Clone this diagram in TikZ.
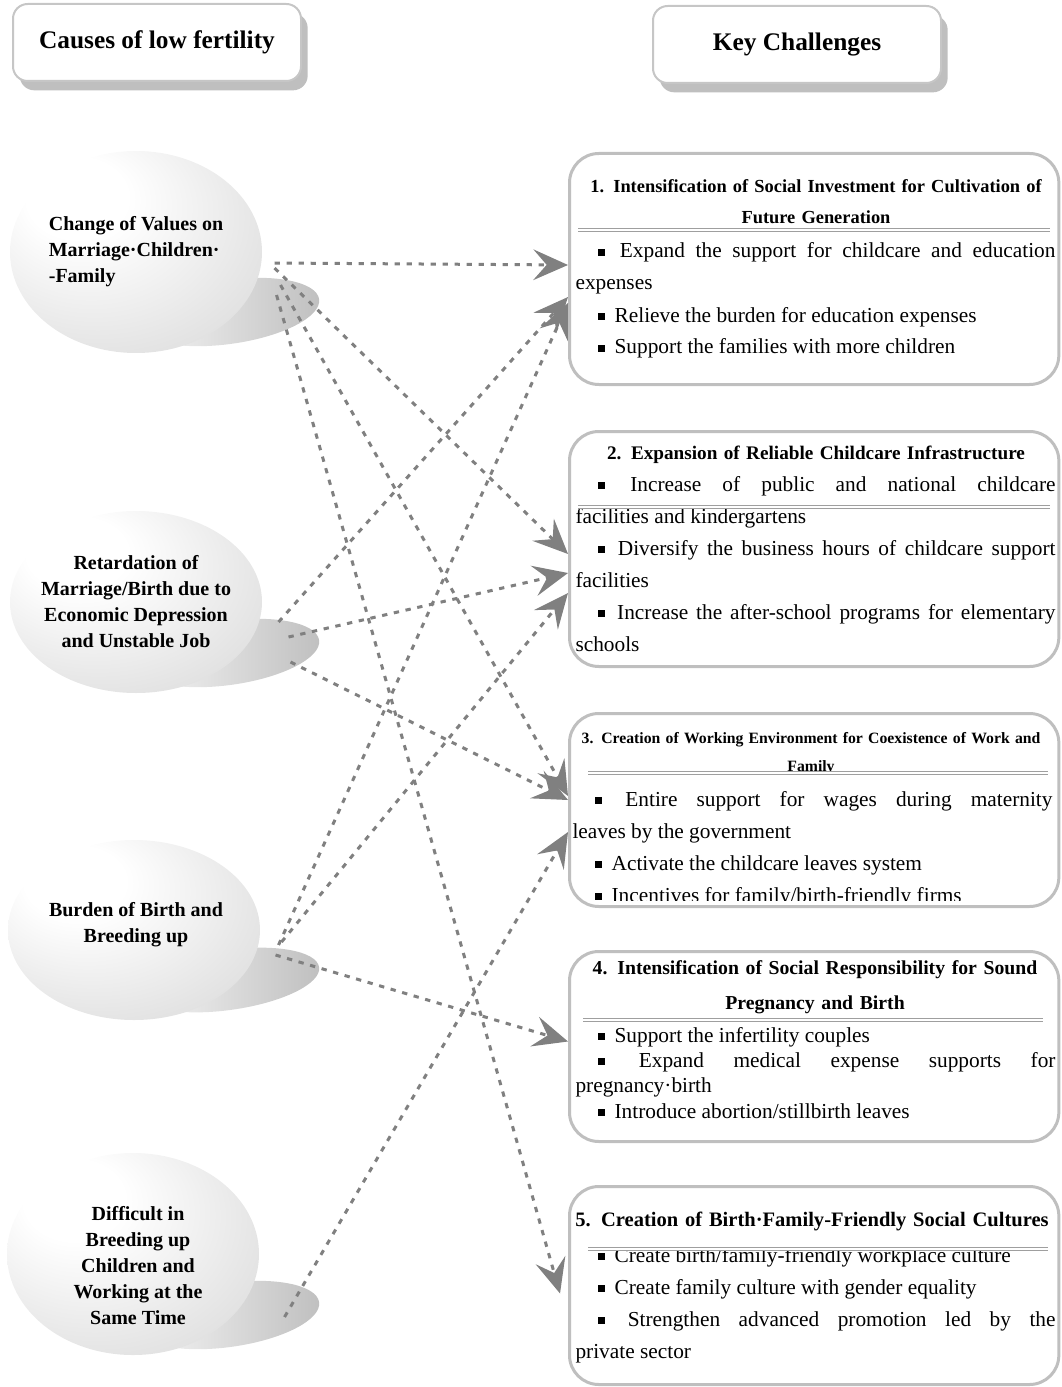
\documentclass[tikz,border=0pt]{standalone}
\usepackage{fontspec}
\setmainfont{Liberation Serif}
\usetikzlibrary{shapes.geometric,shadows,arrows.meta}
\pgfdeclareradialshading{orb}{\pgfpoint{-14bp}{16bp}}{color(0bp)=(white); color(10bp)=(white); color(40bp)=(gray!28); color(62bp)=(gray!38)}
\newcommand{\sq}{\rule[0.1em]{0.32em}{0.32em}}
\newcommand{\itm}{\hspace*{17pt}\sq\hspace{0.2em}\ }
\begin{document}
\begin{tikzpicture}[x=0.75pt, y=-0.75pt, thick,
	head node/.style={draw=gray!45, line width=1.5pt, fill=white, rounded corners=11pt,
		minimum width=216pt, minimum height=57.75pt, anchor=north west,
		drop shadow={shadow xshift=5pt, shadow yshift=-7pt, fill=gray!50, opacity=1},
		font=\bfseries\fontsize{19}{23}\selectfont},
	cause node/.style={ellipse, shading=orb, minimum width=189pt},
	cause text/.style={font=\bfseries\fontsize{15}{19.5}\selectfont, align=center},
	cause shadow/.style={left color=gray!6, right color=gray!50},
	key node/.style={draw=gray!50, line width=2.25pt, fill=white, rounded corners=22pt,
		minimum width=367pt, anchor=north west},
	key title/.style={font=\bfseries\fontsize{14.5}{23.25}\selectfont, align=center,
		text width=360pt, anchor=base, inner sep=0pt},
	key text/.style={font=\fontsize{16}{24}\selectfont, align=justify,
		text width=360pt, anchor=base west, inner sep=0pt},
	double rule/.style={draw=gray!75, line width=0.6pt, double, double distance=1.4pt},
	cause link/.style={draw=gray, line width=2.25pt, dash pattern=on 4pt off 5pt,
		-{Stealth[length=26pt, width=23pt, inset=10pt]}}]
	
	\useasboundingbox (0,0) rectangle (1061,1387);
	
	\shade[cause shadow, rotate around={8:(228,312)}] (228,312) ellipse [x radius=92, y radius=32];
	\shade[cause shadow, rotate around={8:(228,653)}] (228,653) ellipse [x radius=92, y radius=32];
	\shade[cause shadow, rotate around={8:(228,980)}] (228,980) ellipse [x radius=92, y radius=30];
	\shade[cause shadow, rotate around={8:(228,1315)}] (228,1315) ellipse [x radius=92, y radius=32];
	
	\node[cause node, minimum height=151.5pt] (c1) at (136,252) {};
	\node[cause node, minimum height=136.5pt] (c2) at (136,602) {};
	\node[cause node, minimum height=135pt] (c3) at (134,930) {};
	\node[cause node, minimum height=151.5pt] (c4) at (133,1254) {};
	\node[cause text, align=left] (t1) at (c1) {Change of Values on\\Marriage·Children·\\-Family};
	\node[cause text] (t2) at (c2) {Retardation of\\Marriage/Birth due to\\Economic Depression\\and Unstable Job};
	\node[cause text] (t3) at (136,925) {Burden of Birth and\\Breeding up};
	\node[cause text] (t4) at (138,1266) {Difficult in\\Breeding up\\Children and\\Working at the\\Same Time};
	
	\node[head node] (h1) at (12,3) {Causes of low fertility};
	\node[head node] (h2) at (652,5) {Key Challenges};
	
	\node[key node, minimum height=173.25pt] (k1) at (568,152) {};
	\node[key node, minimum height=176.25pt] (k2) at (568,430) {};
	\node[key node, minimum height=144.75pt] (k3) at (568,712) {};
	\node[key node, minimum height=142.5pt] (k4) at (568,950) {};
	\node[key node, minimum height=148.5pt] (k5) at (568,1185) {};
	
	\node[key title, font=\bfseries\fontsize{13.8}{23.25}\selectfont] (k1t) at (816,193) {1. Intensification of Social Investment for Cultivation of\\Future Generation};
	\node[key text] (k1b) at (575,258) {\itm Expand the support for childcare and education\linebreak expenses\par
		\itm Relieve the burden for education expenses\par
		\itm Support the families with more children};
	\draw[double rule] (578,230) -- (1050,230);
	
	\node[key title, font=\bfseries\fontsize{14.4}{23.25}\selectfont] (k2t) at (816,459) {2. Expansion of Reliable Childcare Infrastructure};
	\node[key text] (k2b) at (575,491) {\itm Increase of public and national childcare\linebreak facilities and kindergartens\par
		\itm Diversify the business hours of childcare support\linebreak facilities\par
		\itm Increase the after-school programs for elementary\linebreak schools};
	\draw[double rule] (578,507) -- (1050,507);
	
	\node[key title, font=\bfseries\fontsize{11.8}{21}\selectfont] (k3t) at (811,743) {3. Creation of Working Environment for Coexistence of Work and\\Family};
	\begin{scope}
		\clip (568,712) rectangle (1061,900);
		\node[key text] (k3b) at (572,806) {\itm Entire support for wages during maternity\linebreak leaves by the government\par
			\itm Activate the childcare leaves system\par
			\itm Incentives for family/birth-friendly firms};
	\end{scope}
	\draw[double rule] (588,773) -- (1048,773);
	
	\node[key title, font=\bfseries\fontsize{14.8}{26.25}\selectfont] (k4t) at (815,974) {4. Intensification of Social Responsibility for Sound\\Pregnancy and Birth};
	\node[key text, font=\fontsize{16}{19}\selectfont] (k4b) at (575,1042) {\itm Support the infertility couples\par
		\itm Expand medical expense supports for\linebreak pregnancy·birth\par
		\itm Introduce abortion/stillbirth leaves};
	\draw[double rule] (583,1020) -- (1043,1020);
	
	\node[key title, font=\bfseries\fontsize{15.4}{23.25}\selectfont] (k5t) at (812,1226) {5. Creation of Birth·Family-Friendly Social Cultures};
	\node[key text] (k5b) at (575,1262) {\itm Create birth/family-friendly workplace culture\par
		\itm Create family culture with gender equality\par
		\itm Strengthen advanced promotion led by the\linebreak private sector};
	\draw[double rule] (588,1249) -- (1048,1249);
	
	\path[every edge/.style={cause link}]
	([shift={(12,11)}]c1.east) edge ([shift={(0,-4)}]k1.west)
	([shift={(12,16)}]c1.east) edge ([shift={(0,5)}]k2.west)
	([shift={(18,33)}]c1.east) edge ([shift={(0,-14)}]k3.west)
	([shift={(14,43)}]c1.east) edge ([shift={(-8,8)}]k5.west)
	([shift={(16,20)}]c2.east) edge ([shift={(0,28)}]k1.west)
	([shift={(26,35)}]c2.east) edge ([shift={(0,24)}]k2.west)
	([shift={(28,60)}]c2.east) edge ([shift={(0,-10)}]k3.west)
	([shift={(18,15)}]c3.east) edge ([shift={(0,34)}]k1.west)
	([shift={(21,12)}]c3.east) edge ([shift={(0,44)}]k2.west)
	([shift={(15,25)}]c3.east) edge ([shift={(0,-5)}]k4.west)
	([shift={(25,63)}]c4.east) edge ([shift={(0,22)}]k3.west);
\end{tikzpicture}
\end{document}
